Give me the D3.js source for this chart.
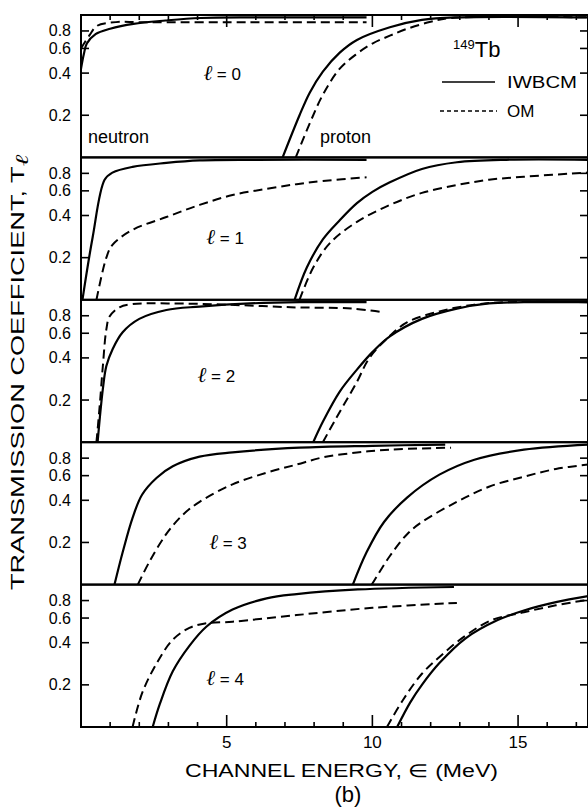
<!DOCTYPE html>
<html>
<head>
  <meta charset="utf-8">
  <title>Transmission coefficients 149Tb</title>
  <style>
    html, body {
      margin: 0;
      padding: 0;
      background: #fff;
    }
    svg { display: block; }
    .frame { stroke: #000; stroke-width: 2; fill: none; }
    .tick { stroke: #000; stroke-width: 1.6; }
    .iw { fill: none; stroke: #000; stroke-width: 2.2; }
    .om { fill: none; stroke: #000; stroke-width: 2; stroke-dasharray: 9 5; }
    text { font-family: "Liberation Sans", Arial, sans-serif; fill: #000; }
  </style>
</head>
<body>
  <svg id="chart" width="588" height="809"></svg>

  <script src="https://d3js.org/d3.v7.min.js"></script>
  <script>
    // [energy MeV, transmission coefficient], one array per curve
    const neutronIWBCM0 = [[0,0.43],[0.1,0.55],[0.2,0.65],[0.5,0.76],[1.0,0.83],[1.8,0.9],[2.9,0.95],[4.1,0.99],[6,1.0],[9.8,1.0]];
    const neutronOM0    = [[0,0.6],[0.3,0.75],[0.55,0.87],[1.2,0.925],[2,0.925],[5,0.925],[9.8,0.925]];
    const protonIWBCM0  = [[6.92,0.1],[7.5,0.2],[7.85,0.29],[8.3,0.41],[8.88,0.56],[9.47,0.69],[10.6,0.85],[11.7,0.96],[12.9,1.0],[17.4,1.0]];
    const protonOM0     = [[7.37,0.1],[7.85,0.175],[8.3,0.28],[8.88,0.43],[9.47,0.55],[10.0,0.65],[10.6,0.74],[11.2,0.83],[12.0,0.93],[12.7,0.99],[17.4,1.0]];

    const neutronIWBCM1 = [[0.05,0.1],[0.4,0.28],[0.81,0.72],[1.08,0.81],[1.77,0.89],[2.93,0.95],[4.07,0.99],[6,1.0],[9.8,1.0]];
    const neutronOM1    = [[0.53,0.1],[0.87,0.2],[1.08,0.247],[1.77,0.316],[2.93,0.39],[4.07,0.476],[5.2,0.56],[6.37,0.62],[7.4,0.67],[8.3,0.705],[9.8,0.75]];
    const protonIWBCM1  = [[7.33,0.1],[7.75,0.17],[8.3,0.27],[8.88,0.37],[9.47,0.49],[10.0,0.59],[10.6,0.69],[11.7,0.86],[12.9,0.96],[14.6,1.0],[17.4,1.0]];
    const protonOM1     = [[7.5,0.1],[7.97,0.17],[8.55,0.255],[9.47,0.36],[10.6,0.476],[11.7,0.58],[12.9,0.66],[14.0,0.72],[15.2,0.757],[17.4,0.81]];

    const neutronIWBCM2 = [[0.57,0.1],[0.75,0.24],[0.87,0.35],[1.08,0.46],[1.43,0.61],[2.0,0.76],[2.93,0.88],[4.07,0.93],[5.8,0.98],[7.5,1.0],[9.8,1.0]];
    const neutronOM2    = [[0.53,0.1],[0.64,0.18],[0.75,0.35],[0.87,0.64],[0.98,0.79],[1.32,0.92],[1.77,0.97],[3,0.98],[5,0.96],[7.2,0.92],[9.3,0.9],[10.3,0.85]];
    const protonIWBCM2  = [[7.97,0.1],[8.3,0.14],[8.88,0.23],[9.47,0.33],[10.0,0.44],[10.6,0.57],[11.7,0.76],[12.9,0.9],[14.0,0.98],[15.2,1.0],[17.4,1.0]];
    const protonOM2     = [[8.3,0.1],[8.77,0.15],[9.47,0.27],[9.9,0.4],[10.6,0.575],[11.2,0.72],[12.3,0.86],[13.5,0.96],[14.6,1.0],[17.4,1.0]];

    const neutronIWBCM3 = [[1.15,0.1],[1.43,0.17],[1.77,0.3],[2.1,0.44],[2.6,0.58],[3.15,0.7],[4.07,0.82],[5.2,0.88],[7.5,0.95],[10,0.98],[12.5,1.0]];
    const neutronOM3    = [[1.95,0.1],[2.35,0.146],[2.93,0.23],[3.5,0.316],[4.07,0.39],[5.2,0.52],[6.37,0.63],[7.4,0.72],[8.3,0.81],[9.47,0.877],[10.6,0.92],[12.7,0.95]];
    const protonIWBCM3  = [[9.33,0.1],[9.8,0.17],[10.4,0.28],[11.2,0.42],[12.3,0.61],[13.5,0.78],[15.2,0.92],[17.4,1.0]];
    const protonOM3     = [[9.98,0.1],[10.6,0.16],[11.2,0.23],[11.7,0.28],[12.9,0.39],[14.0,0.5],[15.2,0.59],[16.3,0.67],[17.4,0.72]];

    const neutronIWBCM4 = [[2.46,0.1],[2.7,0.145],[3.15,0.25],[3.72,0.38],[4.3,0.52],[5.2,0.69],[6.37,0.83],[7.4,0.89],[9.5,0.96],[12.8,1.0]];
    const neutronOM4    = [[1.77,0.1],[2.1,0.175],[2.6,0.286],[3.15,0.42],[3.72,0.51],[4.3,0.55],[5.2,0.565],[7.4,0.63],[10.0,0.71],[12.9,0.77]];
    const protonIWBCM4  = [[10.85,0.1],[11.3,0.15],[11.7,0.2],[12.3,0.286],[13.2,0.43],[14.3,0.58],[15.2,0.68],[16.3,0.78],[17.4,0.86]];
    const protonOM4     = [[10.5,0.1],[11.05,0.156],[11.7,0.24],[12.4,0.33],[13.2,0.45],[14.1,0.58],[15.2,0.66],[16.3,0.74],[17.4,0.81]];

    const panels = [
      { l: 0, iw: [neutronIWBCM0, protonIWBCM0], om: [neutronOM0, protonOM0] },
      { l: 1, iw: [neutronIWBCM1, protonIWBCM1], om: [neutronOM1, protonOM1] },
      { l: 2, iw: [neutronIWBCM2, protonIWBCM2], om: [neutronOM2, protonOM2] },
      { l: 3, iw: [neutronIWBCM3, protonIWBCM3], om: [neutronOM3, protonOM3] },
      { l: 4, iw: [neutronIWBCM4, protonIWBCM4], om: [neutronOM4, protonOM4] }
    ];
    const yTicks = [0.2, 0.4, 0.6, 0.8];
    const xMinor = d3.range(1, 18);
    const xMajor = [5, 10, 15];
    // where the l = n labels sit, in data units of each panel
    const lLabelPos = [[4.2, 0.36], [4.3, 0.25], [4.0, 0.27], [4.4, 0.18], [4.3, 0.2]];

    const svg = d3.select("#chart");
    const plotL = 81, plotR = 588, plotT = 15, panelH = 142.4;
    const x = d3.scaleLinear().domain([0, 17.4]).range([plotL, plotR]);

    const line = yS => d3.line()
      .x(d => x(d[0]))
      .y(d => yS(d[1]))
      .curve(d3.curveCatmullRom.alpha(0.5));

    panels.forEach((p, i) => {
      const y0 = plotT + i * panelH, y1 = y0 + panelH;
      const y = d3.scaleLog().domain([0.1, 1.04]).range([y1, y0]);
      const g = svg.append("g");

      g.append("clipPath").attr("id", "clip" + i)
        .append("rect").attr("x", plotL).attr("y", y0).attr("width", plotR - plotL).attr("height", panelH);

      const curves = g.append("g").attr("clip-path", `url(#clip${i})`);
      p.iw.forEach(c => curves.append("path").attr("class", "iw").attr("d", line(y)(c)));
      p.om.forEach(c => curves.append("path").attr("class", "om").attr("d", line(y)(c)));

      g.append("rect").attr("class", "frame")
        .attr("x", plotL).attr("y", y0).attr("width", plotR - plotL).attr("height", panelH);

      yTicks.forEach(t => {
        g.append("line").attr("class", "tick")
          .attr("x1", plotL).attr("x2", plotL + 8).attr("y1", y(t)).attr("y2", y(t));
        g.append("line").attr("class", "tick")
          .attr("x1", plotR - 8).attr("x2", plotR).attr("y1", y(t)).attr("y2", y(t));
        g.append("text")
          .attr("x", 71).attr("y", y(t) + 5.5)
          .attr("text-anchor", "end")
          .attr("font-size", 16)
          .text(t.toFixed(1));
      });

      const [lx, ly] = lLabelPos[i];
      const lab = g.append("text").attr("x", x(lx)).attr("y", y(ly)).attr("font-size", 17);
      lab.append("tspan")
        .attr("font-family", "'DejaVu Serif', serif")
        .attr("font-style", "italic")
        .attr("font-size", 21)
        .text("ℓ");
      lab.append("tspan").text(" = " + p.l);
    });

    // energy ticks on top of first panel and bottom of last
    const plotB = plotT + 5 * panelH;
    xMinor.forEach(e => {
      const len = xMajor.includes(e) ? 12 : 5;
      svg.append("line").attr("class", "tick")
        .attr("x1", x(e)).attr("x2", x(e)).attr("y1", plotT).attr("y2", plotT + len);
      svg.append("line").attr("class", "tick")
        .attr("x1", x(e)).attr("x2", x(e)).attr("y1", plotB).attr("y2", plotB - len);
    });
    xMajor.forEach(e => {
      svg.append("text")
        .attr("x", x(e)).attr("y", plotB + 21)
        .attr("text-anchor", "middle")
        .attr("font-size", 17)
        .text(e);
    });

    svg.append("text")
      .attr("x", 185).attr("y", plotB + 50)
      .attr("font-size", 18)
      .attr("textLength", 313)
      .attr("lengthAdjust", "spacingAndGlyphs")
      .text("CHANNEL ENERGY, ∈ (MeV)");

    svg.append("text")
      .attr("x", 348).attr("y", 802)
      .attr("text-anchor", "middle")
      .attr("font-size", 22)
      .text("(b)");

    const yl = svg.append("text")
      .attr("transform", "translate(24,590) rotate(-90)")
      .attr("font-size", 18)
      .attr("textLength", 435)
      .attr("lengthAdjust", "spacingAndGlyphs");
    yl.append("tspan").text("TRANSMISSION COEFFICIENT, T");
    yl.append("tspan")
      .attr("font-family", "'DejaVu Serif', serif")
      .attr("font-style", "italic")
      .attr("dy", 4)
      .text("ℓ");

    // panel annotations and legend
    svg.append("text").attr("x", 88).attr("y", 143).attr("font-size", 18).text("neutron");
    svg.append("text").attr("x", 320).attr("y", 143).attr("font-size", 18).text("proton");

    const iso = svg.append("text").attr("x", 453).attr("y", 57).attr("font-size", 22);
    iso.append("tspan").attr("font-size", 13).attr("dy", -8).text("149");
    iso.append("tspan").attr("dy", 8).text("Tb");

    svg.append("line").attr("x1", 442).attr("x2", 495).attr("y1", 82).attr("y2", 82)
      .attr("stroke", "#000").attr("stroke-width", 1.6);
    svg.append("text").attr("x", 507).attr("y", 88).attr("font-size", 17)
      .attr("textLength", 70).attr("lengthAdjust", "spacingAndGlyphs").text("IWBCM");
    svg.append("line").attr("x1", 440).attr("x2", 497).attr("y1", 111).attr("y2", 111)
      .attr("stroke", "#000").attr("stroke-width", 1.6).attr("stroke-dasharray", "4 3");
    svg.append("text").attr("x", 507).attr("y", 117).attr("font-size", 17).text("OM");
  </script>
</body>
</html>
